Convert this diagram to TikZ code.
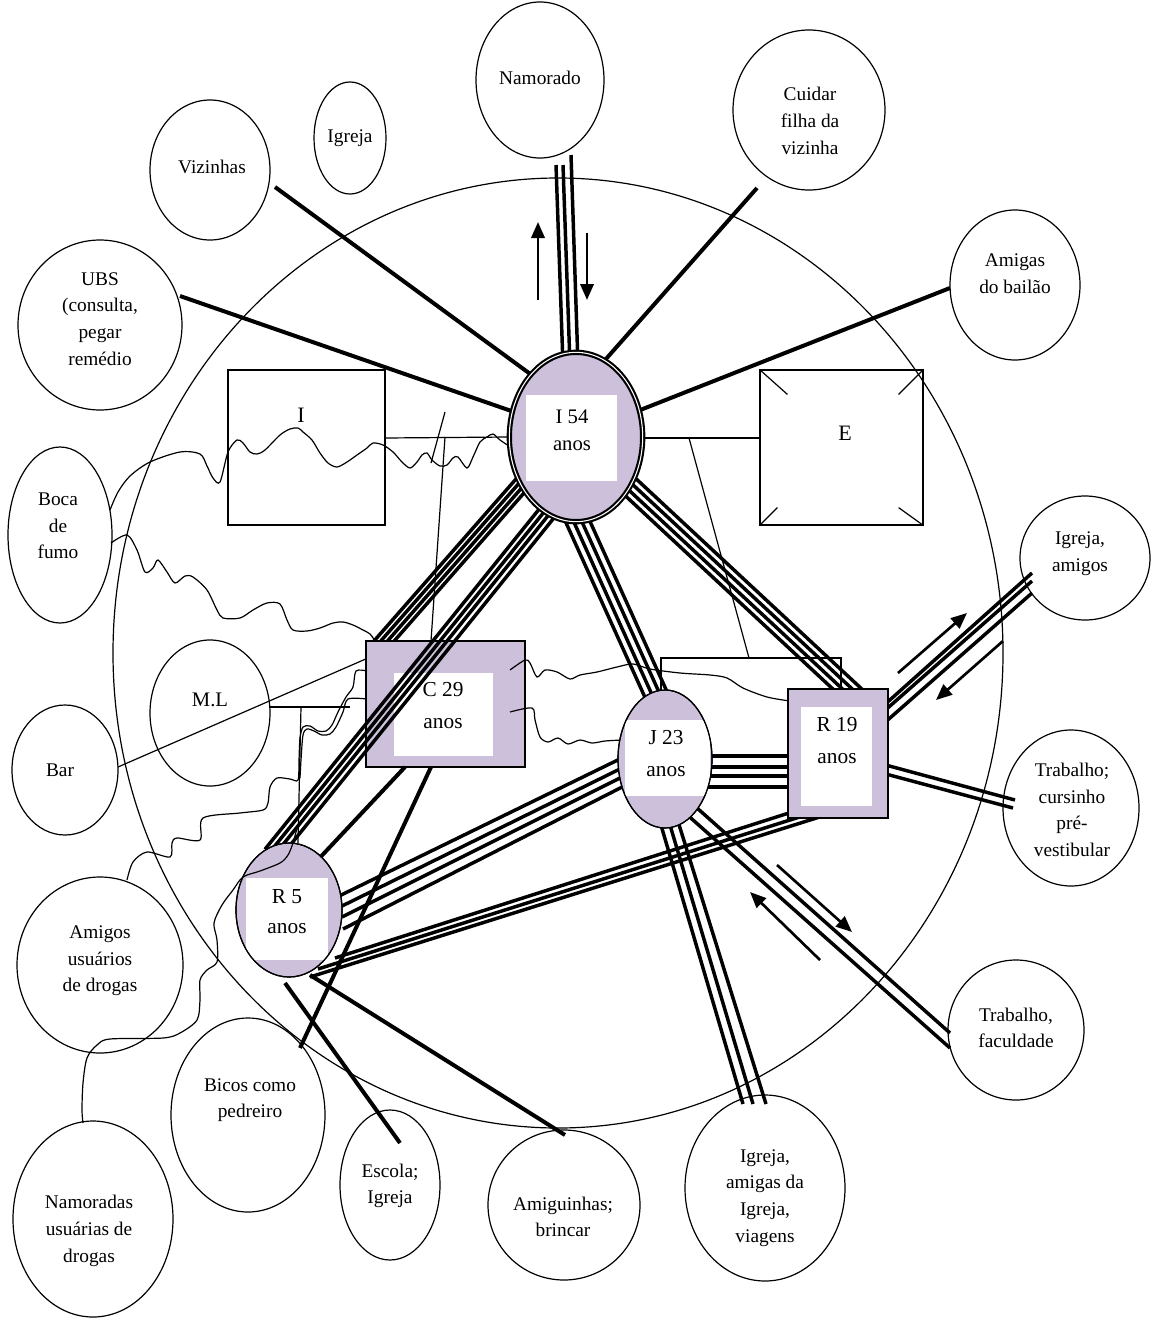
\documentclass[tikz,border=0pt]{standalone}
\usepackage{fontspec}
\setmainfont{Liberation Serif}
\usetikzlibrary{shapes.geometric,arrows.meta,calc}
\definecolor{lav}{RGB}{204,192,218}
% parallel strands between two points, offsets in pt
\newcommand\strands[3]{\foreach \o in {#3}{\draw[heavy] ($#1!\o pt!90:#2$) -- ($#2!\o pt!-90:#1$);}}
\begin{document}
\begin{tikzpicture}[x=0.75pt,y=-0.75pt,
  outer/.style={draw,ellipse,inner sep=0pt,line width=0.9pt},
  lbl/.style={align=center,inner sep=0pt,font=\fontsize{14.5}{20}\selectfont},
  core/.style={align=center,inner sep=0pt,font=\fontsize{16}{24}\selectfont},
  heavy/.style={line width=2.6pt},
  single/.style={line width=3pt},
  fine/.style={line width=0.9pt},
  wave/.style={line width=0.9pt},
  flow/.style={line width=2pt,-{Triangle[length=12pt,width=10pt]}},
  member/.style={fill=lav,draw,line width=0.9pt,inner sep=0pt},
]
\useasboundingbox (0,0) rectangle (1157,1320);

% community boundary
\draw[fine] (558,653) ellipse [x radius=445, y radius=475];

% outer circles
\node[outer,minimum width=96pt,minimum height=117pt] (namorado) at (540,80) {};
\node[outer,minimum width=54pt,minimum height=84pt] (igrejaA) at (350,138) {};
\node[outer,minimum width=90pt,minimum height=105pt] (vizinhas) at (210,170) {};
\node[outer,minimum width=114pt,minimum height=120pt] (cuidar) at (809,110) {};
\node[outer,minimum width=97.5pt,minimum height=112.5pt] (bailao) at (1015,285) {};
\node[outer,minimum width=123pt,minimum height=127.5pt] (ubs) at (100,325) {};
\node[outer,minimum width=78pt,minimum height=132pt] (boca) at (60,535) {};
\node[outer,minimum width=90pt,minimum height=109.5pt] (ml) at (210,713) {};
\node[outer,minimum width=79.5pt,minimum height=97.5pt] (bar) at (65,770) {};
\node[outer,minimum width=124.5pt,minimum height=132pt] (amigosu) at (100,965) {};
\node[outer,minimum width=120pt,minimum height=147pt] (namoradas) at (93,1219) {};
\node[outer,minimum width=115.5pt,minimum height=145.5pt] (bicos) at (248,1115) {};
\node[outer,minimum width=75pt,minimum height=112.5pt] (escola) at (390,1185) {};
\node[outer,minimum width=114pt,minimum height=112.5pt] (amiguinhas) at (564,1205) {};
\node[outer,minimum width=120pt,minimum height=139.5pt] (igrejaC) at (765,1188) {};
\node[outer,minimum width=102pt,minimum height=105pt] (faculdade) at (1016,1030) {};
\node[outer,minimum width=102pt,minimum height=117pt] (cursinho) at (1071,808) {};
\node[outer,minimum width=97.5pt,minimum height=93pt] (igrejaB) at (1085,558) {};

\node[lbl] (t-namorado) at (540,78) {Namorado};
\node[lbl] (t-igrejaA) at (350,138) {Igreja};
\node[lbl] (t-vizinhas) at (212,167) {Vizinhas};
\node[lbl] (t-cuidar) at (810,121) {Cuidar\\filha da\\vizinha};
\node[lbl] (t-bailao) at (1015,274) {Amigas\\do bailão};
\node[lbl] (t-ubs) at (100,319) {UBS\\(consulta,\\pegar\\remédio};
\node[lbl] (t-boca) at (58,526) {Boca\\de\\fumo};
\node[lbl,font=\fontsize{15.5}{20}\selectfont] (t-ml) at (210,700) {M.L};
\node[lbl] (t-bar) at (60,770) {Bar};
\node[lbl] (t-amigosu) at (100,961) {Amigos\\usuários\\de drogas};
\node[lbl] (t-namoradas) at (89,1231) {Namoradas\\usuárias de\\drogas};
\node[lbl] (t-bicos) at (250,1100) {Bicos como\\pedreiro};
\node[lbl] (t-escola) at (390,1186) {Escola;\\Igreja};
\node[lbl] (t-amiguinhas) at (563,1217) {Amiguinhas;\\brincar};
\node[lbl] (t-igrejaC) at (765,1198) {Igreja,\\amigas da\\Igreja,\\viagens};
\node[lbl] (t-faculdade) at (1016,1028) {Trabalho,\\faculdade};
\node[lbl] (t-cursinho) at (1072,810) {Trabalho;\\cursinho\\pré-\\vestibular};
\node[lbl] (t-igrejaB) at (1080,554) {Igreja,\\amigos};

% I and E boxes
\node[draw,fine,minimum width=117.75pt,minimum height=116.25pt,inner sep=0pt] (Ibox) at (306.5,447.5) {};
\node[font=\fontsize{16.5}{20}\selectfont,inner sep=0pt] (t-I) at (301,415) {I};
\node[draw,fine,minimum width=122.25pt,minimum height=116.25pt,inner sep=0pt] (Ebox) at (841.5,447.5) {};
\node[font=\fontsize{16.5}{20}\selectfont,inner sep=0pt] (t-E) at (845,433) {E};
\draw[fine] (Ebox.north west) -- +(28,25);
\draw[fine] (Ebox.north east) -- +(-25,25);
\draw[fine] (Ebox.south west) -- +(18,-18);
\draw[fine] (Ebox.south east) -- +(-25,-18);

% thin links
\draw[fine] (385,438) -- (510,437);
\draw[fine] (640,438) -- (760,438);
\draw[fine] (689,438) -- (749,658);
\draw[fine] (661,691) -- (661,658) -- (841,658) -- (841,690);
\draw[fine] (445,412) -- (431,463);
\draw[fine] (445,437) -- (431,641);
\draw[fine] (118,767) -- (368,658);
\draw[fine] (270,707) -- (350,707);
\draw[fine] (301,707) -- (298,843);

% wavy links
\draw[wave] plot[smooth,tension=0.5] coordinates {(110,510) (118,492) (130,476) (150,462) (180,452) (200,454) (207,466) (213,478) (220,482) (228,452) (237,440) (243,443) (250,452) (257,454) (265,450) (280,435) (290,429) (298,428) (303,432) (312,440) (320,453) (328,463) (337,467) (347,462) (357,455) (367,448) (373,443) (383,445) (393,452) (402,462) (410,468) (417,462) (422,455) (427,453) (432,460) (440,466) (447,465) (453,458) (458,457) (467,468) (473,457) (480,442) (487,437) (493,434) (500,440) (512,448)};
\draw[wave] plot[smooth,tension=0.5] coordinates {(111,543) (127,535) (137,550) (145,572) (153,568) (158,560) (167,572) (175,583) (185,576) (193,577) (207,590) (217,610) (223,618) (240,618) (253,610) (267,603) (280,604) (287,620) (293,630) (307,631) (320,628) (333,623) (343,622) (353,625) (363,630) (370,634) (375,641)};

% strands ending on the C 29 box
\strands{(541,462)}{(378,648)}{-5.7,-1.9,1.9,5.7}

% C 29
\node[member,minimum width=119.25pt,minimum height=94.5pt] (C29) at (445.5,704) {};
\fill[white] (394,673) rectangle (493,756);
\node[core] (t-C29) at (443,706) {C 29\\anos};

\draw[single] (405,767) -- (313,865);
\draw[single] (431,767) -- (300,1048);

\draw[wave] plot[smooth,tension=0.5] coordinates {(510,670) (525,660) (530,663) (537,677) (545,670) (557,672) (570,679) (580,675) (597,672) (617,667) (633,664) (650,669) (680,673) (710,675) (727,678) (743,688) (767,697) (790,701)};
\draw[wave] plot[smooth,tension=0.5] coordinates {(510,712) (532,708) (535,720) (540,737) (548,742) (558,738) (568,744) (580,740) (592,743) (605,741) (622,740)};
\draw[wave] plot[smooth,tension=0.5] coordinates {(367,671) (356,671) (353,687) (346,697) (338,712) (332,725) (326,731) (318,731) (310,726) (303,727) (300,738) (299,760) (298,780) (290,779) (277,778) (270,787) (268,803) (263,810) (240,813) (203,818) (200,840) (177,838) (172,843) (170,857) (147,852) (133,862) (127,880)};
\draw[wave] plot[smooth,tension=0.5] coordinates {(367,699) (348,699) (343,712) (336,727) (330,734) (322,735) (314,731) (307,729) (303,735) (301,760) (300,778)};

% I 54 to R 5, across C 29
\strands{(571,484)}{(272,855)}{-6.8,-2.6,1.5,6}

% spokes of I 54
\draw[heavy] (556,165) -- (563,365);
\draw[heavy] (563,165) -- (570,365);
\draw[heavy] (571,155) -- (578,365);
\draw[single] (275,187) -- (548,387);
\draw[single] (180,296) -- (520,414);
\draw[single] (757,188) -- (598,368);
\draw[single] (950,288) -- (625,416);
\strands{(568,500)}{(663,710)}{-8.4,-2.8,2.8,8.4}
\strands{(610,468)}{(857,698)}{-7.4,-2.5,2.5,7.4}

% R 19
\draw[heavy] (882,707) -- (1032,573);
\draw[heavy] (882,713) -- (1032,581);
\draw[heavy] (882,725) -- (1032,593);
\draw[heavy] (882,764) -- (1015,800);
\draw[heavy] (882,773) -- (1013,808);
\foreach \yy in {756,767,776,787} \draw[heavy] (700,\yy) -- (795,\yy);
\draw[heavy] (792,812) -- (335,958);
\draw[heavy] (809,814) -- (318,969);
\draw[heavy] (826,815) -- (310,977);

% J 23
\draw[heavy] (628,755) -- (335,898);
\draw[heavy] (628,765) -- (340,907);
\draw[heavy] (630,773) -- (342,917);
\draw[heavy] (634,781) -- (343,929);
\draw[heavy] (684,812) -- (950,1048);
\draw[heavy] (688,800) -- (950,1033);
\draw[heavy] (658,815) -- (743,1104);
\draw[heavy] (667,815) -- (753,1104);
\draw[heavy] (676,815) -- (766,1104);

% R 5
\draw[single] (285,983) -- (400,1143);
\draw[single] (310,975) -- (565,1135);

% I 54
\node[ellipse,fill=lav,draw,line width=1.6pt,double=white,double distance=0.8pt,minimum width=100pt,minimum height=127pt,inner sep=0pt] (I54) at (576,437) {};
\fill[white] (526,395) rectangle (617,481);
\node[core,font=\fontsize{15.5}{20}\selectfont] (t-I54) at (572,430) {I 54\\anos};

% J 23
\node[ellipse,member,minimum width=70.5pt,minimum height=103.5pt] (J23) at (665,759) {};
\begin{scope}
  \clip (665,759) ellipse [x radius=46.5, y radius=68.5];
  \fill[white] (625,720) rectangle (710,796);
\end{scope}
\draw[fine] (665,759) ellipse [x radius=47, y radius=69];
\node[core] (t-J23) at (666,754) {J 23\\anos};

% R 19
\node[member,minimum width=75pt,minimum height=96.75pt] (R19) at (838,753.5) {};
\fill[white] (801,707) rectangle (872,806);
\node[core] (t-R19) at (837,741) {R 19\\anos};

% R 5
\node[ellipse,member,minimum width=79.5pt,minimum height=100.5pt] (R5) at (289,910) {};
\begin{scope}
  \clip (289,910) ellipse [x radius=52.5, y radius=66.5];
  \fill[white] (246,878) rectangle (328,960);
\end{scope}
\draw[fine] (289,910) ellipse [x radius=53, y radius=67];
\node[core,font=\fontsize{16}{22.5}\selectfont] (t-R5) at (287,912) {R 5\\anos};

\draw[wave] plot[smooth,tension=0.5] coordinates {(297,828) (293,843) (288,855) (280,863) (260,871) (243,877) (233,890) (222,905) (214,923) (217,940) (217,962) (207,970) (200,980) (200,1000) (197,1020) (180,1033) (163,1038) (110,1039) (97,1045) (87,1058) (83,1083) (82,1110) (83,1123)};

% exchange arrows
\draw[flow] (538,300) -- (538,222);
\draw[flow] (587,233) -- (587,300);
\draw[flow] (898,673) -- (967,613);
\draw[flow] (1003,641) -- (936,700);
\draw[flow] (777,865) -- (852,932);
\draw[flow] (820,960) -- (750,892);
\end{tikzpicture}
\end{document}
